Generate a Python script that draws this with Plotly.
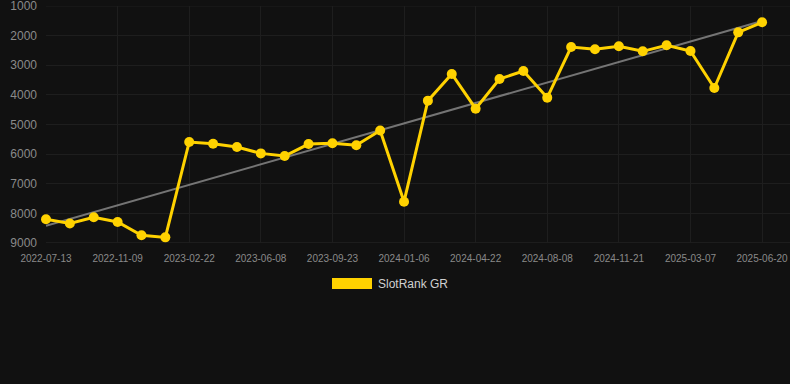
import numpy as np
import plotly.graph_objects as go

dates = [
    "2022-07-13", "2022-08-22", "2022-10-01", "2022-11-09", "2022-12-14", "2023-01-18",
    "2023-02-22", "2023-03-30", "2023-05-04", "2023-06-08", "2023-07-14", "2023-08-18",
    "2023-09-23", "2023-10-28", "2023-12-02", "2024-01-06", "2024-02-11", "2024-03-17",
    "2024-04-22", "2024-05-28", "2024-07-03", "2024-08-08", "2024-09-12", "2024-10-17",
    "2024-11-21", "2024-12-26", "2025-01-30", "2025-03-07", "2025-04-11", "2025-05-16",
    "2025-06-20",
]
rank = [
    8200, 8340, 8130, 8290, 8740, 8810,
    5590, 5650, 5760, 5975, 6065, 5660,
    5635, 5700, 5200, 7605, 4195, 3295,
    4466, 3464, 3194, 4094, 2384, 2462,
    2361, 2530, 2327, 2519, 3768, 1889,
    1551,
]
tick_dates = ["2022-07-13", "2022-11-09", "2023-02-22", "2023-06-08", "2023-09-23",
              "2024-01-06", "2024-04-22", "2024-08-08", "2024-11-21", "2025-03-07",
              "2025-06-20"]
y_ticks = [1000, 2000, 3000, 4000, 5000, 6000, 7000, 8000, 9000]
series_name = "SlotRank GR"

idx = np.arange(len(rank))
slope, intercept = np.polyfit(idx, rank, 1)
trend = (slope * idx + intercept).tolist()

gold = "#FFD200"
grid = "#1e1e1e"
fig = go.Figure()
fig.add_trace(go.Scatter(
    x=dates, y=trend, mode="lines",
    line=dict(color="rgba(150,150,150,0.75)", width=2),
    showlegend=False, hoverinfo="skip", cliponaxis=False,
))
fig.add_trace(go.Scatter(
    x=dates, y=rank, mode="lines+markers", name=series_name,
    line=dict(color=gold, width=3),
    marker=dict(color=gold, size=10),
    showlegend=False, cliponaxis=False,
))

fig.update_layout(
    width=790, height=384,
    margin=dict(l=46, r=0, t=6, b=141),
    paper_bgcolor="#111111", plot_bgcolor="#111111",
    font=dict(family="Liberation Sans, Arial, sans-serif", color="#8a8a8a"),
    xaxis=dict(
        type="category", range=[0, 31.17],
        tickmode="array", tickvals=tick_dates, ticktext=tick_dates,
        tickfont=dict(size=10, color="#8a8a8a"),
        showgrid=True, gridcolor=grid, gridwidth=1,
        zeroline=False, showline=False, ticks="", tickangle=0,
        ticklabelstandoff=8,
    ),
    yaxis=dict(
        range=[9000, 1000], tickmode="array", tickvals=y_ticks,
        tickfont=dict(size=12, color="#8a8a8a"),
        showgrid=True, gridcolor=grid, gridwidth=1,
        zeroline=False, showline=False, ticks="",
        ticklabeloverflow="allow", ticklabelstandoff=8,
    ),
    showlegend=False,
    shapes=[
        dict(type="line", xref="paper", yref="y", x0=0, x1=1, y0=9000, y1=9000,
             line=dict(color="#2a2a2a", width=1), layer="below"),
        dict(type="line", xref="paper", yref="y", x0=0, x1=1, y0=1000, y1=1000,
             line=dict(color=grid, width=1), layer="below"),
        dict(type="rect", xref="paper", yref="paper",
             x0=(332 - 46) / 744, x1=(372 - 46) / 744,
             y0=-(289 - 243) / 237, y1=-(278 - 243) / 237,
             fillcolor=gold, line=dict(width=0)),
    ],
    annotations=[
        dict(text=series_name, xref="paper", yref="paper",
             x=(376 - 46) / 744, y=-(284 - 243) / 237,
             xanchor="left", yanchor="middle", showarrow=False,
             font=dict(size=12, color="#d0d0d0")),
    ],
)

fig.write_html(
    "out.html",
    config={"displayModeBar": False},
    post_script="document.body.style.margin='0';document.body.style.padding='0';"
                "document.body.style.background='#111111';",
)
